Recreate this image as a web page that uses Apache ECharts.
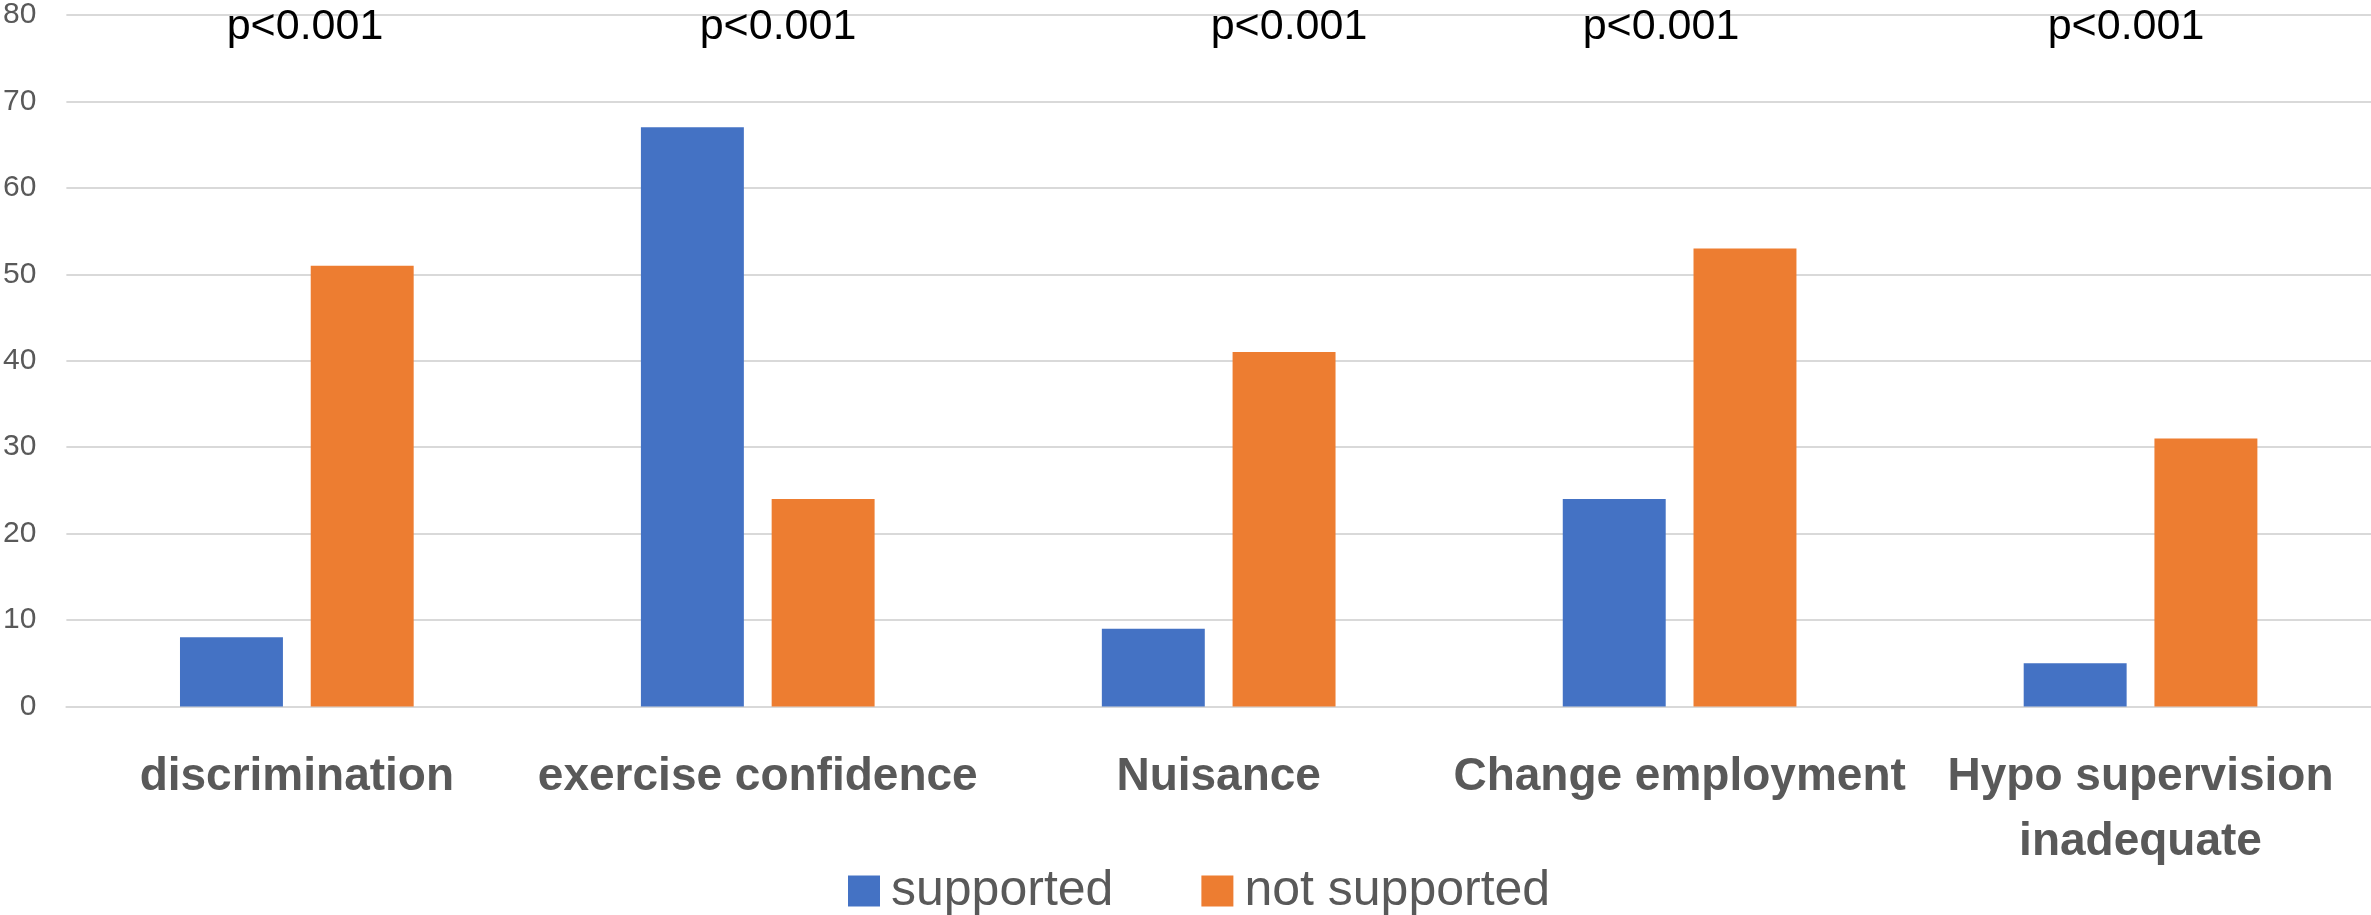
<!DOCTYPE html>
<html>
<head>
<meta charset="utf-8">
<script src="https://cdn.jsdelivr.net/npm/echarts@6/dist/echarts.min.js"></script>
<style>
  html, body { margin: 0; padding: 0; background: #ffffff; }
  #chart { width: 2371px; height: 915px; }
</style>
</head>
<body>
<div id="chart"></div>
<script>
// Categories and values per group
const categories = ['discrimination', 'exercise confidence', 'Nuisance', 'Change employment', 'Hypo supervision\ninadequate'];
const supported = [8, 67, 9, 24, 5];
const notSupported = [51, 24, 41, 53, 31];
const seriesNames = ['supported', 'not supported'];
const pValues = ['p<0.001', 'p<0.001', 'p<0.001', 'p<0.001', 'p<0.001'];

// Horizontal centres of the significance notes (px)
const pNoteX = [305, 778, 1289, 1661, 2126];

const chart = echarts.init(document.getElementById('chart'), null, { renderer: 'canvas' });

const gridColor = '#d9d9d9';
const textGrey = '#595959';

chart.setOption({
  animation: false,
  backgroundColor: '#ffffff',
  color: ['#4472C4', '#ED7D31'],
  grid: { left: 63, right: 0, top: 11, bottom: 208.5, containLabel: false },
  legend: {
    data: seriesNames,
    left: 843,
    top: 861,
    itemWidth: 32,
    itemHeight: 31,
    itemGap: 88,
    icon: 'rect',
    textStyle: {
      fontFamily: '"Liberation Sans", Arial, sans-serif',
      fontSize: 50,
      color: textGrey,
      padding: [0, 0, 0, 6]
    }
  },
  xAxis: {
    type: 'category',
    data: categories,
    axisLine: { show: true, lineStyle: { color: gridColor, width: 2 } },
    axisTick: { show: false },
    axisLabel: {
      interval: 0,
      margin: 38,
      fontFamily: '"Liberation Sans", Arial, sans-serif',
      fontWeight: 'bold',
      fontSize: 46,
      lineHeight: 65,
      color: textGrey,
      align: 'center'
    }
  },
  yAxis: {
    type: 'value',
    min: 0,
    max: 80,
    interval: 10,
    axisLine: { show: false },
    axisTick: { show: false },
    splitLine: { lineStyle: { color: gridColor, width: 2 } },
    axisLabel: {
      margin: 30,
      fontFamily: '"Liberation Sans", Arial, sans-serif',
      fontSize: 30,
      color: textGrey
    }
  },
  series: [
    {
      name: seriesNames[0],
      type: 'bar',
      data: supported,
      barGap: '27%',
      barCategoryGap: '49.3%'
    },
    {
      name: seriesNames[1],
      type: 'bar',
      data: notSupported,
      barGap: '27%',
      barCategoryGap: '49.3%'
    }
  ],
  graphic: pValues.map((t, i) => ({
    type: 'text',
    x: pNoteX[i],
    y: 27,
    z: 100,
    style: {
      text: t,
      fill: '#000000',
      font: '43px "Liberation Sans", Arial, sans-serif',
      align: 'center',
      verticalAlign: 'middle'
    }
  }))
});
</script>
</body>
</html>
